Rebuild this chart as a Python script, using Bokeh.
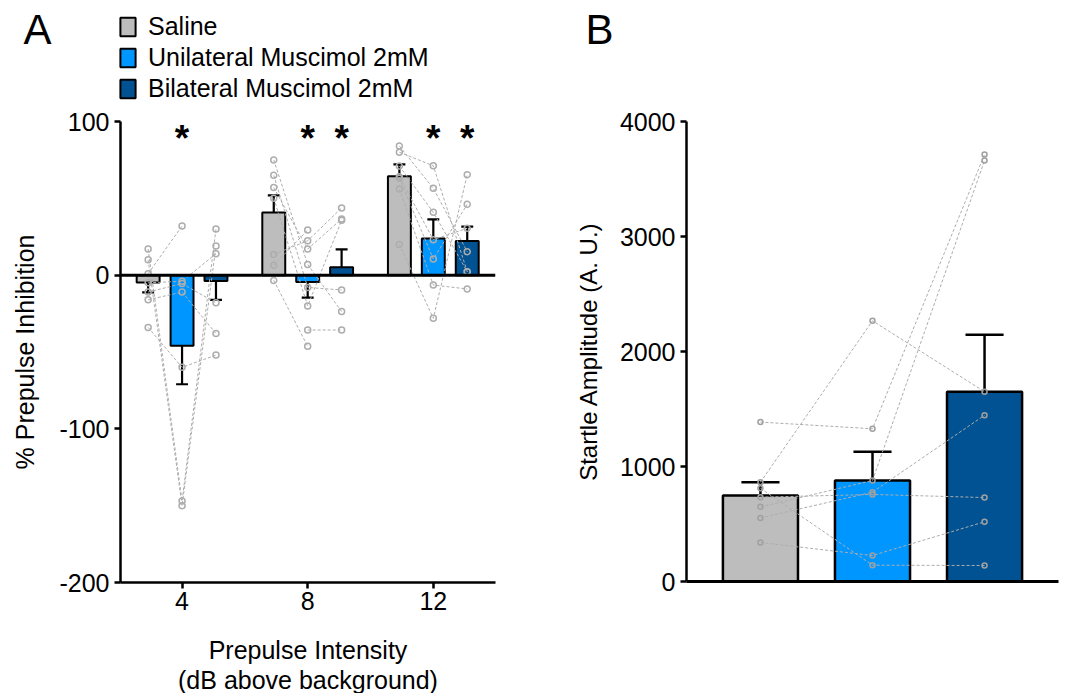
import math
from bokeh.plotting import figure
from bokeh.models import (Range1d, FixedTicker, Legend, LegendItem, Span)
from bokeh.layouts import row, column
from bokeh.embed import file_html
from bokeh.resources import INLINE
from bokeh.core.properties import value

NaN = float("nan")
FONT = "Liberation Sans"

# ---------------- Panel A data ----------------
intensities = [4, 8, 12]
intensity_labels = ["4", "8", "12"]
ppi_ticks = [-200, -100, 0, 100]
ppi_tick_labels = ["-200", "-100", "0", "100"]
condition_names = ["Saline", "Unilateral Muscimol 2mM", "Bilateral Muscimol 2mM"]

ppi_saline_mean = [-4.7, 40.7, 64.3]
ppi_saline_sem = [6.5, 11.2, 7.8]
ppi_uni_mean = [-45.9, -4.4, 23.9]
ppi_uni_sem = [25.1, 10.2, 12.4]
ppi_bil_mean = [-3.8, 5.1, 22.3]
ppi_bil_sem = [12.3, 11.7, 9.3]

sig_saline = [False, False, False]
sig_uni = [True, True, True]
sig_bil = [False, True, True]

# individual animals (same index = same animal)
ppi4_saline = [17, 10, 1, -5, -11, -16, -34, NaN]
ppi4_uni = [-147, -150, 32, -4, -5.5, -11, -60, NaN]
ppi4_bil = [30, 19, NaN, 14, -18, -38, -52, NaN]

ppi8_saline = [75, 65, 57, 50, 13.5, 6.4, -3.4, NaN]
ppi8_uni = [7, -8, 17, -20, 22.4, 29.4, -46.3, -35.7]
ppi8_bil = [-23.7, -9.6, 36.6, 35.7, 43.7, NaN, NaN, -35.7]

ppi12_saline = [84, 80, 71, 64, 63, 56, 20, NaN]
ppi12_uni = [56.5, 71.2, 40.9, 23.1, 10.5, -6.4, -28.1, NaN]
ppi12_bil = [15.3, 2.3, 2.3, 30.5, 46.1, -9, 65.4, NaN]

# ---------------- Panel B data ----------------
startle_ticks = [0, 1000, 2000, 3000, 4000]
startle_mean = [748, 878, 1650]
startle_sem = [115, 250, 495]
startle_saline = [1386, 863, 733, 649, 553, 811, 339]
startle_uni = [1328, 2267, 757, 878, 777, 142, 226]
startle_bil = [3713, 1650, 730, 3661, 1446, 139, 519]

# ---------------- style ----------------
colors = ["#BDBDBD", "#0096FF", "#005293"]
POINT_COLOR = "#ADADAD"
LINE_COLOR = "#ADADAD"


def style_axes(p, label_size="25px"):
    for ax in p.xaxis + p.yaxis:
        ax.axis_line_width = 2.5
        ax.axis_line_color = "black"
        ax.major_tick_line_width = 2.5
        ax.major_tick_line_color = "black"
        ax.major_tick_out = 6
        ax.major_tick_in = 0
        ax.minor_tick_line_color = None
        ax.major_label_text_font = FONT
        ax.major_label_text_font_size = label_size
        ax.major_label_text_color = "black"
        ax.axis_label_text_font = FONT
        ax.axis_label_text_font_style = "normal"
        ax.axis_label_text_color = "black"
    p.xgrid.visible = False
    p.ygrid.visible = False
    p.outline_line_color = None
    p.background_fill_color = "white"
    p.border_fill_color = "white"


# ================= Header (panel letters + legend) =================
TOP0 = 3          # where the layout starts on the page
HDR_H = 104
header = figure(width=1067, height=HDR_H, x_range=Range1d(0, 1067),
                y_range=Range1d(TOP0 + HDR_H, TOP0), x_axis_type=None, y_axis_type=None,
                output_backend="svg", toolbar_location=None,
                min_border_left=0, min_border_right=0, min_border_top=0,
                min_border_bottom=0)
header.outline_line_color = None
header.xgrid.visible = False
header.ygrid.visible = False
header.text(x=[23, 585], y=[32, 32], text=["A", "B"], text_font=value(FONT),
            text_font_size="42px", text_baseline="alphabetic", text_align="left",
            text_color="black")
legend_renderers = [header.vbar(x=[NaN], top=[NaN], width=1, fill_color=c,
                                line_color="black", line_width=2) for c in colors]
legend = Legend(items=[LegendItem(label=n, renderers=[r])
                       for n, r in zip(condition_names, legend_renderers)],
                location=(118, 1.5), glyph_width=19, glyph_height=23,
                label_text_font=FONT, label_text_font_size="25px",
                label_text_color="black",
                label_standoff=11, spacing=2, padding=0, margin=0,
                border_line_alpha=0, background_fill_alpha=0)
header.add_layout(legend)

# ================= Panel A =================
pA = figure(frame_width=375, frame_height=461,
            x_range=Range1d(2.04, 13.98), y_range=Range1d(-200, 100),
            output_backend="svg", toolbar_location=None,
            min_border_left=120, min_border_right=65,
            min_border_top=13, min_border_bottom=113)
style_axes(pA)
pA.xaxis.ticker = FixedTicker(ticks=intensities)
pA.xaxis.major_label_overrides = {t: l for t, l in zip(intensities, intensity_labels)}
pA.xaxis.major_label_standoff = 3
pA.xaxis.axis_label = "Prepulse Intensity\n(dB above background)"
pA.xaxis.axis_label_text_font_size = "25px"
pA.xaxis.axis_label_text_line_height = 1.1
pA.xaxis.axis_label_standoff = 23
pA.yaxis.ticker = FixedTicker(ticks=ppi_ticks)
pA.yaxis.major_label_overrides = {t: l for t, l in zip(ppi_ticks, ppi_tick_labels)}
pA.yaxis.major_label_standoff = 5
pA.yaxis.axis_label = "% Prepulse Inhibition"
pA.yaxis.axis_label_text_font_size = "25px"
pA.yaxis.axis_label_standoff = 17

offsets = [-1.08, 0.0, 1.08]
bar_w = 0.73
cap_hw = 0.19
means = [ppi_saline_mean, ppi_uni_mean, ppi_bil_mean]
sems = [ppi_saline_sem, ppi_uni_sem, ppi_bil_sem]
sigs = [sig_saline, sig_uni, sig_bil]

for ci in range(3):
    xs = [i + offsets[ci] for i in intensities]
    pA.vbar(x=xs, top=means[ci], bottom=0, width=bar_w,
            fill_color=colors[ci], line_color="black", line_width=2)

# error bars (one-sided, away from zero)
for ci in range(3):
    x0, y0, y1, cx0, cx1, cy = [], [], [], [], [], []
    for k, i in enumerate(intensities):
        m = means[ci][k]
        s = sems[ci][k]
        end = m + s if m >= 0 else m - s
        x = i + offsets[ci]
        x0.append(x); y0.append(m); y1.append(end)
        cx0.append(x - cap_hw); cx1.append(x + cap_hw); cy.append(end)
    pA.segment(x0=x0, y0=y0, x1=x0, y1=y1, line_color="black", line_width=2.2)
    pA.segment(x0=cx0, y0=cy, x1=cx1, y1=cy, line_color="black", line_width=2.2)

# individual animals
groups = [(4, ppi4_saline, ppi4_uni, ppi4_bil),
          (8, ppi8_saline, ppi8_uni, ppi8_bil),
          (12, ppi12_saline, ppi12_uni, ppi12_bil)]
mxs, mys, px, py = [], [], [], []
for inten, s_vals, u_vals, b_vals in groups:
    for a in range(len(s_vals)):
        triple = [s_vals[a], u_vals[a], b_vals[a]]
        lx = [inten + offsets[c] for c in range(3) if not math.isnan(triple[c])]
        ly = [triple[c] for c in range(3) if not math.isnan(triple[c])]
        if len(lx) > 1:
            mxs.append(lx); mys.append(ly)
        px.extend(lx); py.extend(ly)
pA.multi_line(xs=mxs, ys=mys, line_color=LINE_COLOR, line_width=1, line_dash="3 2")
pA.scatter(px, py, marker="circle", size=6, fill_color=None,
           line_color=POINT_COLOR, line_width=1.5)

pA.add_layout(Span(location=0, dimension="width", line_color="black", line_width=3))

sx = [intensities[k] + offsets[ci] for ci in range(3) for k in range(3) if sigs[ci][k]]
pA.text(x=sx, y=[89] * len(sx), text=["*"] * len(sx),
        text_font=value(FONT), text_font_size="37px", text_font_style="bold",
        text_align="center", text_baseline="alphabetic", text_color="black")

# ================= Panel B =================
pB = figure(frame_width=372, frame_height=460,
            x_range=Range1d(0.34, 3.66), y_range=Range1d(0, 4000),
            output_backend="svg", toolbar_location=None,
            min_border_left=126, min_border_right=9,
            min_border_top=17, min_border_bottom=110)
style_axes(pB)
pB.xaxis.ticker = FixedTicker(ticks=[])
pB.xaxis.axis_line_width = 3
pB.yaxis.ticker = FixedTicker(ticks=startle_ticks)
pB.yaxis.major_label_standoff = 5
pB.yaxis.axis_label = "Startle Amplitude (A. U.)"
pB.yaxis.axis_label_text_font_size = "24px"
pB.yaxis.axis_label_standoff = 15

bx = [1, 2, 3]
pB.vbar(x=bx, top=startle_mean, bottom=0, width=0.67, fill_color=colors,
        line_color="black", line_width=2.5)
ends = [m + s for m, s in zip(startle_mean, startle_sem)]
pB.segment(x0=bx, y0=startle_mean, x1=bx, y1=ends, line_color="black", line_width=2.5)
pB.segment(x0=[x - 0.17 for x in bx], y0=ends, x1=[x + 0.17 for x in bx], y1=ends,
           line_color="black", line_width=2.5)

bxs, bys, bpx, bpy = [], [], [], []
for a in range(len(startle_saline)):
    ly = [startle_saline[a], startle_uni[a], startle_bil[a]]
    bxs.append(bx); bys.append(ly)
    bpx.extend(bx); bpy.extend(ly)
pB.multi_line(xs=bxs, ys=bys, line_color=LINE_COLOR, line_width=1, line_dash="3 2")
pB.scatter(bpx, bpy, marker="circle", size=5, fill_color=None,
           line_color="#A0A0A0", line_width=1.5)

layout = column(header, row(pA, pB))
open("out.html", "w").write(file_html(layout, INLINE))
